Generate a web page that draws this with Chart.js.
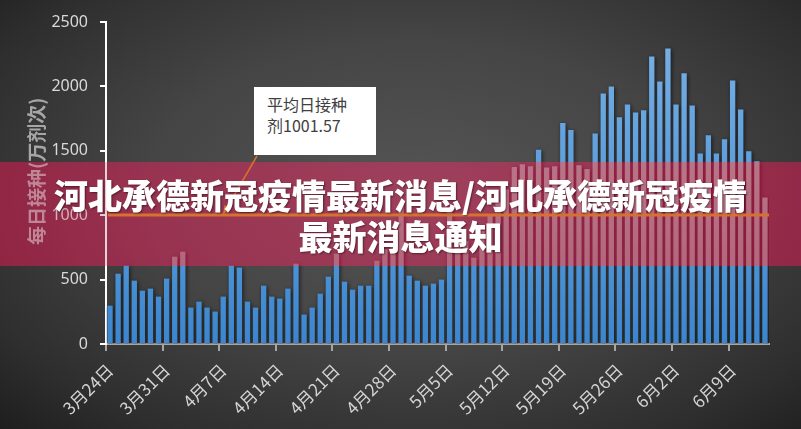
<!DOCTYPE html>
<html>
<head>
<meta charset="utf-8">
<script src="https://cdn.jsdelivr.net/npm/chart.js@4.4.1/dist/chart.umd.min.js"></script>
<style>
  html, body { margin: 0; padding: 0; background: #333; }
  #wrap { position: relative; width: 801px; height: 429px; overflow: hidden; }
  #myChart { position: absolute; left: 0; top: 0; }
  #note {
    position: absolute; left: 254px; top: 87px; width: 122px; height: 68px;
    background: #fff; box-sizing: border-box; padding: 7px 0 0 13px;
    font-family: "Noto Sans CJK SC", sans-serif; font-size: 16px; line-height: 21px; color: #404040;
  }
  #bannerText {
    position: absolute; left: 0; top: 162px; width: 801px; height: 104px;
    box-sizing: border-box; padding-top: 12px;
    font-family: "Noto Sans CJK SC", sans-serif; font-weight: 900; font-size: 34px; line-height: 41px;
    color: #fff; text-align: center; text-shadow: 1px 1px 2px rgba(0,0,0,0.45);
  }
</style>
</head>
<body>
<div id="wrap">
  <canvas id="myChart" width="801" height="429"></canvas>
  <div id="note">平均日接种<br>剂1001.57</div>
  <div id="bannerText">河北承德新冠疫情最新消息/河北承德新冠疫情<br>最新消息通知</div>
</div>
<script>
// dates 3/24 - 6/13
let aDayLabel = [
    '3月24日', '3月25日', '3月26日', '3月27日', '3月28日', '3月29日', '3月30日', '3月31日',
    '4月1日', '4月2日', '4月3日', '4月4日', '4月5日', '4月6日', '4月7日', '4月8日', '4月9日', '4月10日',
    '4月11日', '4月12日', '4月13日', '4月14日', '4月15日', '4月16日', '4月17日', '4月18日', '4月19日', '4月20日',
    '4月21日', '4月22日', '4月23日', '4月24日', '4月25日', '4月26日', '4月27日', '4月28日', '4月29日', '4月30日',
    '5月1日', '5月2日', '5月3日', '5月4日', '5月5日', '5月6日', '5月7日', '5月8日', '5月9日', '5月10日',
    '5月11日', '5月12日', '5月13日', '5月14日', '5月15日', '5月16日', '5月17日', '5月18日', '5月19日', '5月20日',
    '5月21日', '5月22日', '5月23日', '5月24日', '5月25日', '5月26日', '5月27日', '5月28日', '5月29日', '5月30日',
    '5月31日', '6月1日', '6月2日', '6月3日', '6月4日', '6月5日', '6月6日', '6月7日', '6月8日', '6月9日',
    '6月10日', '6月11日', '6月12日', '6月13日'
];

// daily doses (万剂次)
let aDoses = [
    298, 546, 608, 492, 414, 430, 368, 508, 678, 717,
    283, 329, 283, 252, 368, 608, 593, 329, 283, 453,
    368, 353, 430, 624, 229, 283, 391, 523, 701, 484,
    422, 453, 453, 647, 735, 760, 1080, 531, 492, 453,
    469, 500, 1040, 750, 800, 670, 880, 1000, 1100, 1200,
    1375, 1395, 1380, 1508, 1370, 1380, 1716, 1662, 1388, 1358,
    1634, 1945, 2000, 1760, 1860, 1798, 1814, 2232, 2038, 2294,
    1860, 2102, 1852, 1480, 1620, 1480, 1589, 2046, 1821, 1496,
    1418, 1138
];

let yTicks = [0, 500, 1000, 1500, 2000, 2500];
const avgDose = 1001.57;
const arrowIndex = 14;   // the callout arrow points at this day on the average line

// banner band across the chart (page pixels)
const bannerTop = 162, bannerHeight = 104;

const decoPlugin = {
    id: 'deco',
    beforeDraw(chart) {
        // dark radial background
        const ctx = chart.ctx;
        ctx.save();
        ctx.setTransform(600 / 343, 0, 0, 1, 416, 193);
        const g = ctx.createRadialGradient(0, 0, 0, 0, 0, 343);
        g.addColorStop(0, '#555555');
        g.addColorStop(0.45, '#454545');
        g.addColorStop(0.8, '#2e2e2e');
        g.addColorStop(1, '#1c1c1c');
        ctx.fillStyle = g;
        ctx.fillRect(-300, -300, 600, 600);
        ctx.restore();
    },
    beforeDatasetsDraw(chart) {
        const ctx = chart.ctx;
        ctx.save();
        ctx.shadowColor = 'rgba(0,0,0,0.65)';
        ctx.shadowBlur = 4;
        ctx.shadowOffsetX = 1;
        ctx.shadowOffsetY = 1;
    },
    afterDatasetsDraw(chart) {
        chart.ctx.restore();
    },
    afterDraw(chart) {
        const ctx = chart.ctx;
        // crimson banner: tint what lies below it
        const img = ctx.getImageData(0, bannerTop, 801, bannerHeight);
        const d = img.data;
        for (let i = 0; i < d.length; i += 4) {
            const lum = 0.3 * d[i] + 0.59 * d[i + 1] + 0.11 * d[i + 2] - 70;
            d[i] = Math.min(255, Math.max(0, 152 + 0.42 * lum));
            d[i + 1] = Math.min(255, Math.max(0, 52 + 0.85 * lum));
            d[i + 2] = Math.min(255, Math.max(0, 81 + 0.72 * lum));
        }
        ctx.putImageData(img, 0, bannerTop);

        // average line and the callout leader sit on top
        const area = chart.chartArea;
        const yPix = chart.scales.y.getPixelForValue(avgDose);
        ctx.save();
        ctx.strokeStyle = '#d8702e';
        ctx.lineWidth = 3;
        ctx.beginPath();
        ctx.moveTo(area.left + 2, yPix);
        ctx.lineTo(area.right, yPix);
        ctx.stroke();

        const tipX = chart.scales.x.getPixelForValue(arrowIndex);
        const tipY = yPix - 1;
        const fromX = 257, fromY = 156;
        ctx.lineWidth = 1.5;
        ctx.beginPath();
        ctx.moveTo(fromX, fromY);
        ctx.lineTo(tipX, tipY);
        ctx.stroke();
        const ang = Math.atan2(tipY - fromY, tipX - fromX);
        ctx.fillStyle = '#d8702e';
        ctx.beginPath();
        ctx.moveTo(tipX, tipY);
        ctx.lineTo(tipX - 9 * Math.cos(ang - 0.4), tipY - 9 * Math.sin(ang - 0.4));
        ctx.lineTo(tipX - 9 * Math.cos(ang + 0.4), tipY - 9 * Math.sin(ang + 0.4));
        ctx.closePath();
        ctx.fill();
        ctx.restore();
    }
};

const ctx = document.getElementById('myChart').getContext('2d');
let myChart = new Chart(ctx, {
    type: 'bar',
    data: {
        labels: aDayLabel,
        datasets: [{
            label: '每日接种',
            data: aDoses,
            backgroundColor: (c) => {
                const area = c.chart.chartArea;
                if (!area) return '#5b9bd5';
                const g = c.chart.ctx.createLinearGradient(0, area.bottom, 0, area.top);
                g.addColorStop(0, '#3b86cf');
                g.addColorStop(1, '#7ab2e6');
                return g;
            },
            borderWidth: 0,
            categoryPercentage: 1,
            barPercentage: 0.66
        }]
    },
    options: {
        responsive: false,
        animation: false,
        layout: { padding: { top: 22, right: 32, bottom: 0, left: 0 } },
        scales: {
            x: {
                offset: true,
                afterFit: (s) => { s.height = 85; },
                grid: {
                    offset: true,
                    drawOnChartArea: false,
                    tickLength: 7,
                    lineWidth: 2,
                    color: (c) => (c.index % 7 === 0 ? '#a6a6a6' : 'rgba(0,0,0,0)')
                },
                border: { color: '#a6a6a6', width: 2 },
                ticks: {
                    autoSkip: false,
                    maxRotation: 45,
                    minRotation: 45,
                    padding: 9,
                    color: '#d4d4d4',
                    font: { family: '"Noto Sans CJK SC"', size: 17 },
                    callback: (v, i) => (i % 7 === 0 ? aDayLabel[i] : '')
                }
            },
            y: {
                min: 0,
                max: 2500,
                afterFit: (s) => { s.width = 106; },
                afterBuildTicks: (s) => { s.ticks = yTicks.map(v => ({ value: v })); },
                grid: { drawOnChartArea: false, color: '#ffffff', tickLength: 6, lineWidth: 2 },
                border: { color: '#ffffff', width: 2 },
                ticks: {
                    padding: 12,
                    color: '#d9d9d9',
                    font: { family: '"Noto Sans"', size: 16 },
                    callback: (v) => String(v)
                },
                title: {
                    display: true,
                    text: '\u3000 每日接种(万剂次)',
                    color: '#a6a6a6',
                    padding: { top: 25, bottom: 0 },
                    font: { family: '"Noto Sans CJK SC"', size: 19, weight: 'bold' }
                }
            }
        },
        plugins: {
            legend: { display: false },
            tooltip: { enabled: false }
        }
    },
    plugins: [decoPlugin]
});
</script>
</body>
</html>
